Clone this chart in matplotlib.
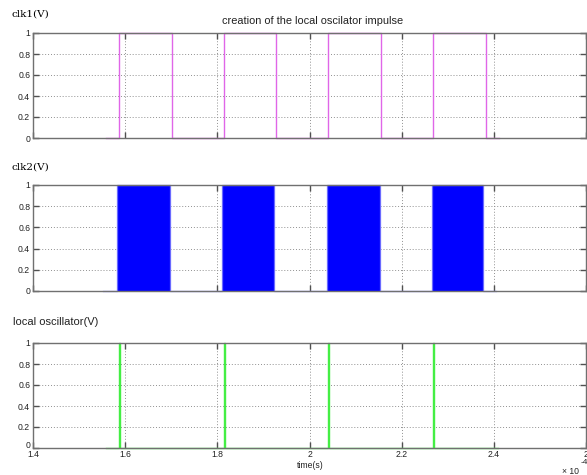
import matplotlib
matplotlib.use("Agg")
import matplotlib.pyplot as plt
import matplotlib.transforms as mtransforms
import numpy as np

# ---- data (time in units of 1e-4 s) ----
clk1_edges = [1.558, 1.586, 1.701, 1.814, 1.927, 2.041, 2.156, 2.269, 2.382, 2.412]
clk1_levels = [0, 1, 0, 1, 0, 1, 0, 1, 0, 0]

clk2_start = 1.552
clk2_end = 2.405
clk2_block_on = [1.582, 1.810, 2.037, 2.265]
clk2_block_off = [1.697, 1.922, 2.152, 2.377]

lo_start = 1.558
lo_end = 2.408
lo_spikes = [1.586, 1.814, 2.041, 2.269]
lo_width = 0.002

xticks = [1.4, 1.6, 1.8, 2.0, 2.2, 2.4, 2.6]
xticklabels = ["1.4", "1.6", "1.8", "2", "2.2", "2.4", "2"]
yticks = [0, 0.2, 0.4, 0.6, 0.8, 1.0]
yticklabels = ["0", "0.2", "0.4", "0.6", "0.8", "1"]

W, H = 587, 475
fig = plt.figure(figsize=(W / 100, H / 100), dpi=100)

sans = "Liberation Sans"
serif = "DejaVu Serif"
spine_col = "#707070"
txt_col = "#222222"

def make_ax(top, bottom):
    left, right = 33, 586
    ax = fig.add_axes([left / W, 1 - bottom / H, (right - left) / W, (bottom - top) / H])
    ax.set_xlim(1.4, 2.6)
    ax.set_ylim(0, 1)
    ax.set_xticks(xticks)
    ax.set_yticks(yticks)
    ax.set_yticklabels(yticklabels, fontsize=6.2, family=sans, color=txt_col)
    ax.grid(True, linestyle=(0, (1, 2)), color="#909090", linewidth=0.7)
    ax.tick_params(direction="in", length=4, width=1.0, color="#505050",
                   top=True, right=True, pad=2)
    for s in ax.spines.values():
        s.set_color(spine_col)
        s.set_linewidth(1.0)
    ax.set_axisbelow(True)
    return ax

# ---- clk1 ----
ax1 = make_ax(33, 138)
ax1.step(clk1_edges, clk1_levels, where="post", color="#e066e8", linewidth=1.0, clip_on=False)
ax1.set_xticklabels([])

# ---- clk2 ----
ax2 = make_ax(185, 291)
t2 = [clk2_start]
v2 = [0]
for a, b in zip(clk2_block_on, clk2_block_off):
    t2 += [a, a, b, b]
    v2 += [0, 1, 1, 0]
t2.append(clk2_end)
v2.append(0)
ax2.fill_between(t2, v2, 0, color="#0000ff", linewidth=0)
ax2.plot(t2, v2, color="#6a6aff", linewidth=0.9, clip_on=False)
ax2.set_xticklabels([])

# ---- local oscillator ----
ax3 = make_ax(343, 448)
t3 = [lo_start]
v3 = [0]
for s in lo_spikes:
    t3 += [s, s, s + lo_width, s + lo_width]
    v3 += [0, 1, 1, 0]
t3.append(lo_end)
v3.append(0)
ax3.plot(t3, v3, color="#44ee44", linewidth=1.0, clip_on=False)
ax3.set_xticklabels(xticklabels, fontsize=6.2, family=sans, color=txt_col)
ax3.tick_params(axis="x", pad=1.5)
# raise the "0" label a little (as in the reference) so it sits above "1.4"
lbl0 = ax3.get_yticklabels()[0]
lbl0.set_transform(lbl0.get_transform() +
                   mtransforms.ScaledTranslation(0, 3 / 100, fig.dpi_scale_trans))

# ---- texts ----
fig.text(12 / W, 1 - 14 / H, "clk1(V)", family=serif, fontsize=7.5, va="center", ha="left")
fig.text(313 / W, 1 - 21 / H, "creation of the local oscilator impulse",
         family=sans, fontsize=7.9, va="center", ha="center", color=txt_col)
fig.text(12 / W, 1 - 167 / H, "clk2(V)", family=serif, fontsize=7.5, va="center", ha="left")
fig.text(13 / W, 1 - 322 / H, "local oscillator(V)", family=sans, fontsize=8,
         va="center", ha="left", color=txt_col)
fig.text(310 / W, 1 - 465 / H, "time(s)", family=sans, fontsize=6.2, va="center",
         ha="center", color=txt_col)
fig.text(562 / W, 1 - 471 / H, "× 10", family=sans, fontsize=6.2, va="center",
         ha="left", color=txt_col)
fig.text(581 / W, 1 - 463 / H, "-4", family=sans, fontsize=6, va="center",
         ha="left", color=txt_col)

fig.savefig("out.png", dpi=100)
